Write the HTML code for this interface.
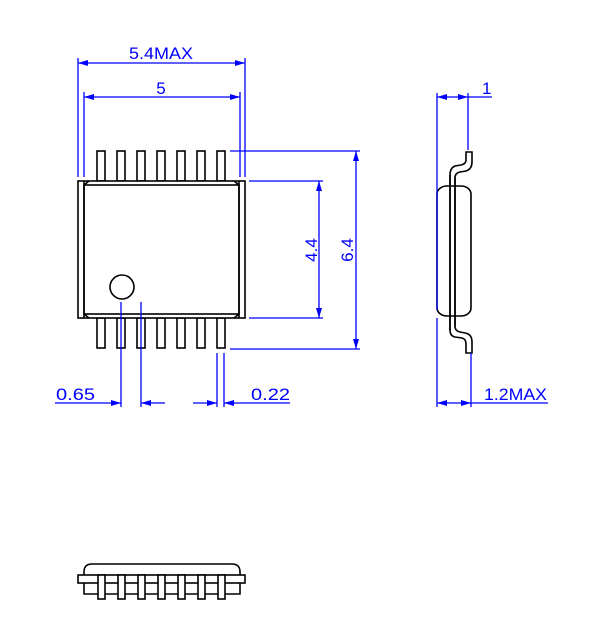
<html><body style="margin:0;background:#fff">
<svg width="606" height="640" viewBox="0 0 606 640" xmlns="http://www.w3.org/2000/svg">
<defs>
<marker id="a" viewBox="0 0 10 6" refX="10" refY="3" markerWidth="10" markerHeight="6" orient="auto-start-reverse" markerUnits="userSpaceOnUse"><path d="M0,0L10,3L0,6Z" fill="#00f"/></marker>
</defs>
<g stroke="#000" stroke-width="1.6" fill="none">
<g id="tp">
<rect x="97" y="151" width="8" height="30"/><rect x="117" y="151" width="8" height="30"/><rect x="137" y="151" width="8" height="30"/><rect x="157" y="151" width="8" height="30"/><rect x="177" y="151" width="8" height="30"/><rect x="197" y="151" width="8" height="30"/><rect x="217" y="151" width="8" height="30"/>
</g>
<use href="#tp" y="167"/>
<rect x="78" y="181" width="167" height="137" fill="#fff"/>
<path d="M84,181V318M239,181V318M84,185L89,181M239,185L234,181M84,314L89,318M239,314L234,318"/>
<rect x="84" y="185" width="155" height="129"/>
<circle cx="122" cy="287" r="12"/>
<!-- side view -->
<rect x="437" y="186" width="34" height="130" rx="10" ry="8"/>
<path d="M466,152L466,160Q466,164 461,165L455,166Q450,168 450,175L450,330Q450,336 455,337L462,338Q466,339 466,344L466,353L472,353L472,342Q472,334 465,333L460,332Q455,331 455,326L455,178Q455,173 460,172L466,171Q472,169 472,162L472,152Z"/>
<path d="M450,175V330M455,178V326"/>
<!-- bottom view -->
<path d="M84,594V572Q84,564 92,564H232Q240,564 240,572V594Z"/>
<rect x="78" y="575" width="167" height="8" fill="#fff"/>
<rect x="98" y="575" width="7" height="24" fill="#fff"/><rect x="118" y="575" width="7" height="24" fill="#fff"/><rect x="138" y="575" width="7" height="24" fill="#fff"/><rect x="158" y="575" width="7" height="24" fill="#fff"/><rect x="178" y="575" width="7" height="24" fill="#fff"/><rect x="198" y="575" width="7" height="24" fill="#fff"/><rect x="218" y="575" width="7" height="24" fill="#fff"/>
</g>
<g stroke="#00f" stroke-width="1.3" fill="none">
<path d="M78,58V177M245,58V177M84,92V177M240,92V177"/>
<path d="M78,63H245" marker-start="url(#a)" marker-end="url(#a)"/>
<path d="M84,97H240" marker-start="url(#a)" marker-end="url(#a)"/>
<path d="M230,151H360M230,349H360M249,181H323M249,318H323"/>
<path d="M356,151V349" marker-start="url(#a)" marker-end="url(#a)"/>
<path d="M319,181V318" marker-start="url(#a)" marker-end="url(#a)"/>
<path d="M121,302V407M141,302V407M217,353V407M224,353V407"/>
<path d="M55,403H121" marker-end="url(#a)"/><path d="M165,403H141" marker-end="url(#a)"/>
<path d="M193,403H217" marker-end="url(#a)"/><path d="M290,403H224" marker-end="url(#a)"/>
<path d="M437,93V310M468,93V150M471,353V407M437,318V407"/>
<path d="M437,97H468" marker-start="url(#a)" marker-end="url(#a)"/><path d="M468,97H492"/>
<path d="M437,403H471" marker-start="url(#a)" marker-end="url(#a)"/><path d="M471,403H548"/>
</g>
<g fill="#00f" font-family="Liberation Sans, sans-serif" font-size="17">
<text x="161" y="59" text-anchor="middle" textLength="64" lengthAdjust="spacingAndGlyphs">5.4MAX</text>
<text x="161" y="94" text-anchor="middle">5</text>
<text x="56" y="400" textLength="39" lengthAdjust="spacingAndGlyphs">0.65</text>
<text x="251" y="400" textLength="39" lengthAdjust="spacingAndGlyphs">0.22</text>
<text x="482" y="94">1</text>
<text x="484" y="400" textLength="63" lengthAdjust="spacingAndGlyphs">1.2MAX</text>
<text transform="translate(317,250) rotate(-90)" text-anchor="middle">4.4</text>
<text transform="translate(353,250) rotate(-90)" text-anchor="middle">6.4</text>
</g>
</svg>
</body></html>
